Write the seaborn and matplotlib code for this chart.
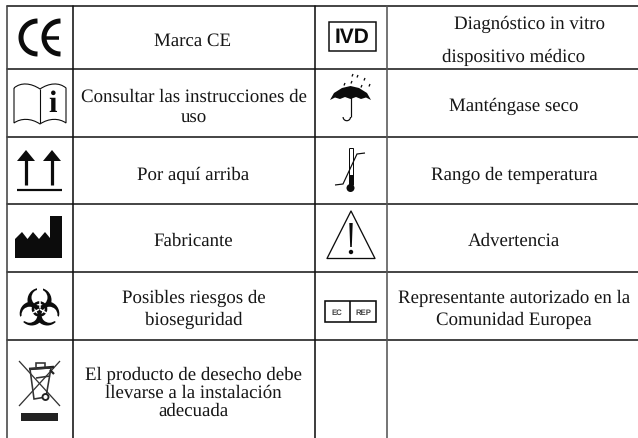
import numpy as np
import pandas as pd
import matplotlib
matplotlib.use('Agg')
import matplotlib.pyplot as plt
from matplotlib.patches import Circle, Polygon, PathPatch, Rectangle
from matplotlib.path import Path
import seaborn as sns

#table layout, in pixels
col_edges = [7, 72.5, 315, 387]
col_colors = ['#444444', '#111111', '#111111', '#555555']
row_edges = [7, 70, 138, 205, 273, 341]
table_right = 638
table_bottom = 439

#each printed line of text with its centre x and its baseline y
labels = ['Marca CE', 'Consultar las instrucciones de', 'uso', 'Por aquí arriba', 'Fabricante',
          'Posibles riesgos de', 'bioseguridad', 'El producto de desecho debe',
          'llevarse a la instalación', 'adecuada', 'Diagnóstico in vitro',
          'dispositivo médico', 'Manténgase seco', 'Rango de temperatura', 'Advertencia',
          'Representante autorizado en la', 'Comunidad Europea']
label_x = [193, 193.5, 193.5, 193, 193, 193.5, 193.5, 193.5, 193.5, 193.5, 530, 513.5, 514, 514, 514, 514, 514]
label_y = [46, 101.5, 123, 180, 246, 303, 325, 380, 398, 416, 29, 62, 111, 179.5, 246, 303, 325]

INK = '#0c0c0c'
PX = 0.72  #one pixel in points at dpi 100

sns.set_theme(style='white')
plt.rcParams['font.family'] = ['Liberation Serif', 'DejaVu Serif']
plt.rcParams['text.hinting'] = 'no_hinting'
plt.rcParams['text.hinting_factor'] = 8

fig = plt.figure(figsize=(6.38, 4.39), dpi=100)
ax = fig.add_axes([0, 0, 1, 1])
ax.set_xlim(0, 638)
ax.set_ylim(439, 0)
ax.axis('off')


#grid lines go through seaborn, one unit per line
rows = pd.DataFrame({'x': [col_edges[0], table_right] * len(row_edges),
                     'y': np.repeat(row_edges, 2),
                     'line': np.repeat(range(len(row_edges)), 2)})
sns.lineplot(data=rows, x='x', y='y', units='line', estimator=None, sort=False,
             color='#111111', linewidth=1.1, ax=ax)
for x, c in zip(col_edges, col_colors):
    cols = pd.DataFrame({'x': [x, x], 'y': [row_edges[0], table_bottom]})
    sns.lineplot(data=cols, x='x', y='y', estimator=None, sort=False, color=c, linewidth=1.15, ax=ax)
ax.set_xlim(0, 638)
ax.set_ylim(439, 0)
ax.set_xlabel('')
ax.set_ylabel('')

for t, x, y in zip(labels, label_x, label_y):
    ax.text(x, y, t, ha='center', va='baseline', fontsize=13.6, color='#161616')


def stroke(xs, ys, lw=1.5, color=INK, cap='butt'):
    ax.plot(xs, ys, color=color, lw=lw * PX, solid_capstyle=cap, solid_joinstyle='miter')


def arc(cx, cy, r, a0, a1, lw):
    t = np.radians(np.linspace(a0, a1, 60))
    stroke(cx + r * np.cos(t), cy - r * np.sin(t), lw=lw)


def curve(verts, codes, fill='none', lw=1.5):
    ax.add_patch(PathPatch(Path(verts, codes), facecolor=fill, edgecolor=INK, lw=lw * PX))


#CE mark
arc(37.5, 38.5, 16.5, 90, 270, 5)
arc(60.5, 38.5, 16.5, 90, 270, 5)
stroke([45, 59], [38.5, 38.5], lw=3.5)

#instructions book
C4 = Path.CURVE4
curve([(14, 89), (21, 83), (31, 84), (40, 90), (49, 84), (59, 83), (66, 89),
       (66, 124), (59, 119), (49, 119), (40, 125), (31, 119), (21, 119), (14, 124), (14, 89)],
      [Path.MOVETO, C4, C4, C4, C4, C4, C4, Path.LINETO, C4, C4, C4, C4, C4, C4, Path.LINETO], lw=1.1)
stroke([40, 40], [90, 124], lw=1.1)
ax.text(53, 105, 'i', ha='center', va='center', fontsize=22, fontweight='bold', color=INK)

#this way up
for ax_x in [26, 52]:
    ax.add_patch(Polygon([(ax_x, 151), (ax_x + 9, 162), (ax_x - 9, 162)], closed=True, color=INK, lw=0))
    stroke([ax_x, ax_x], [160, 186], lw=3.2)
stroke([17, 62], [191, 191], lw=2.2)

#manufacturer
ax.add_patch(Polygon([(15, 259), (15, 240), (22, 233), (27.5, 240), (33, 233), (39, 240), (45, 233),
                      (50, 239), (50, 217), (62, 217), (62, 259)], closed=True, color=INK, lw=0))

#biohazard
bx, by = 39.5, 310
for a in [90, 210, 330]:
    t = np.radians(a)
    ux, uy = np.cos(t), -np.sin(t)
    ax.add_patch(Circle((bx + 9 * ux, by + 9 * uy), 12, color=INK, lw=0, zorder=3))
for a in [90, 210, 330]:
    t = np.radians(a)
    ux, uy = np.cos(t), -np.sin(t)
    ax.add_patch(Circle((bx + 11.5 * ux, by + 11.5 * uy), 8, color='white', lw=0, zorder=4))
    #gap on the outer side of each lobe
    ax.plot([bx + 16 * ux, bx + 22 * ux], [by + 16 * uy, by + 22 * uy], color='white', lw=6 * PX, zorder=5)
ax.add_patch(Circle((bx, by), 6.5, fill=False, edgecolor=INK, lw=2.6 * PX, zorder=6))
for a in [90, 210, 330]:
    t = np.radians(a)
    ax.plot([bx + 1 * np.cos(t), bx + 9 * np.cos(t)], [by - 1 * np.sin(t), by - 9 * np.sin(t)],
            color='white', lw=1.5 * PX, zorder=7)

#waste bin
stroke([19, 60], [362, 407], lw=1.3, color='#333333')
stroke([60, 19], [362, 407], lw=1.3, color='#333333')
stroke([29, 54], [370, 368], lw=2.6, color='#222222')
stroke([36, 36, 45, 45], [368, 364, 364, 368], lw=1.6, color='#333333')
stroke([30, 34, 46, 51, 30], [370, 400, 398, 369, 370], lw=1.6, color='#333333')
stroke([36, 50], [379, 377], lw=1.6, color='#333333')
stroke([50, 54], [371, 375], lw=2.2, color='#222222')
ax.add_patch(Circle((45.5, 398), 3, facecolor='white', edgecolor='#222222', lw=1.9 * PX, zorder=3))
ax.add_patch(Rectangle((21, 414), 37, 8, color='#222222', lw=0))

#IVD box
ax.add_patch(Rectangle((329, 23), 47, 29, fill=False, edgecolor=INK, lw=1.5 * PX))
ax.text(352.5, 38, 'IVD', ha='center', va='center', family='Liberation Sans',
        fontsize=15, fontweight='bold', color=INK)

#umbrella
ax.add_patch(Polygon([(330, 101), (334, 94), (342, 89), (350.5, 87), (359, 89), (367, 94), (371, 101),
                      (366, 98.5), (361, 100), (356, 98), (350.5, 100), (345, 98), (340, 100), (335, 98.5)],
                     closed=True, color=INK, lw=0))
stroke([350.5, 350.5], [98, 118], lw=1.2)
arc(346.8, 118, 3.7, 180, 360, 1.2)
for dx, dy in [(344, 85), (351, 83), (357, 77), (364, 80), (369, 86), (361, 87), (352, 76)]:
    stroke([dx, dx + 1], [dy + 1.5, dy - 1], lw=1.3)

#temperature limit
stroke([348.5, 348.5], [186, 148.5], lw=1.0)
stroke([348.5, 353, 353], [148.5, 148.5, 186], lw=1.0)
ax.add_patch(Rectangle((349, 176), 3.6, 12, color=INK, lw=0))
ax.add_patch(Circle((350.5, 189), 4, color=INK, lw=0))
stroke([335, 343, 357, 365], [186, 185, 155, 154], lw=1.2)

#warning triangle
ax.add_patch(Polygon([(351, 212), (375, 259.5), (327, 259.5)], closed=True, fill=False, edgecolor=INK,
                     lw=1.3 * PX, joinstyle='round'))
ax.add_patch(Polygon([(349.3, 224), (352.7, 224), (351.8, 248), (350.2, 248)], closed=True, color=INK, lw=0))
ax.add_patch(Circle((351, 253), 2.2, color=INK, lw=0))

#EC REP box
ax.add_patch(Rectangle((324.5, 301.5), 51.5, 21, fill=False, edgecolor=INK, lw=1.6 * PX))
stroke([350, 350], [301.5, 322.5], lw=1.6)
ax.text(337, 312.5, 'EC', ha='center', va='center', family='Liberation Sans', fontsize=5.6,
        fontweight='bold', color='#444444')
ax.text(363, 312.5, 'REP', ha='center', va='center', family='Liberation Sans', fontsize=5.6,
        fontweight='bold', color='#444444')

ax.set_xlim(0, 638)
ax.set_ylim(439, 0)
fig.savefig('out.png', dpi=100)
